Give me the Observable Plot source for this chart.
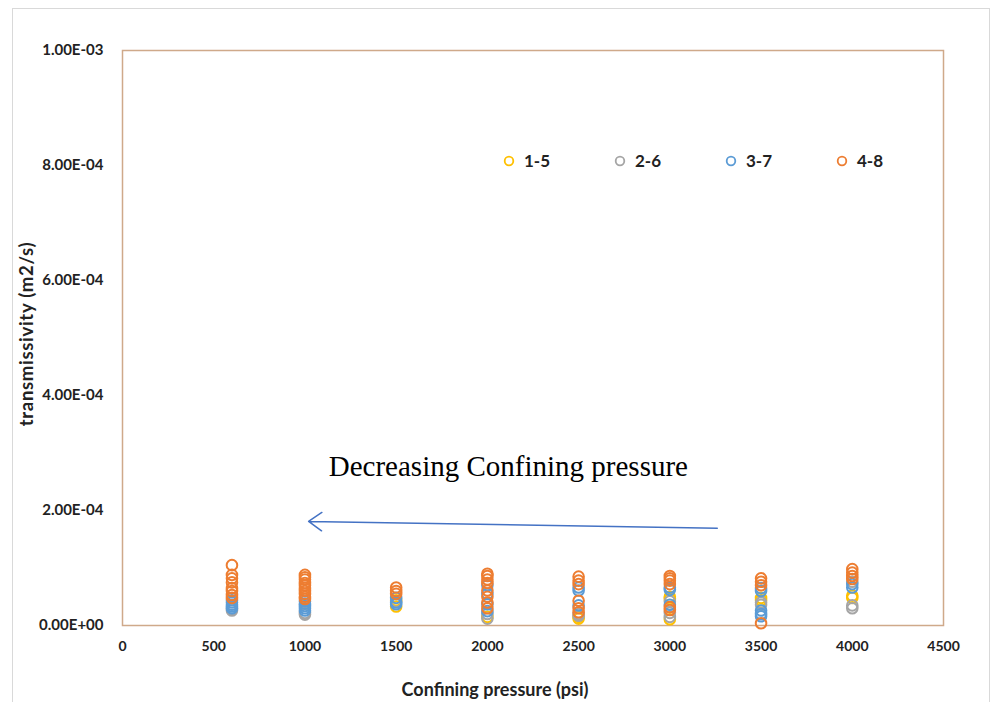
<!DOCTYPE html>
<html>
<head>
<meta charset="utf-8">
<script src="https://cdn.jsdelivr.net/npm/d3@7"></script>
<script src="https://cdn.jsdelivr.net/npm/@observablehq/plot@0.6"></script>
<style>
  html, body { margin: 0; padding: 0; background: #fff; }
  #wrap { position: relative; width: 1000px; height: 702px; overflow: hidden; font-family: Lato, "Open Sans", sans-serif; }
  #border { position: absolute; left: 12px; top: 8px; width: 978px; height: 720px; border: 1px solid #d9d9d9; box-sizing: border-box; }
  #chart { position: absolute; left: 0; top: 0; }
  .ttl { position: absolute; font-weight: bold; color: #222; white-space: nowrap; }
  #xtitle { left: 495px; top: 678px; transform: translateX(-50%); font-size: 18px; }
  #ytitle { left: 26px; top: 334px; transform: translate(-50%, -50%) rotate(-90deg); font-size: 18.5px; letter-spacing: 0.7px; }
  #legend { position: absolute; top: 150px; left: 503px; display: flex; gap: 0; font-weight: bold; font-size: 17px; color: #222; }
  #legend .item { display: flex; align-items: center; width: 111px; }
  #legend svg { margin-right: 9px; }
</style>
</head>
<body>
<div id="wrap">
  <div id="border"></div>
  <div id="chart"></div>
  <div id="legend"></div>
  <div class="ttl" id="xtitle">Confining pressure (psi)</div>
  <div class="ttl" id="ytitle">transmissivity (m2/s)</div>
</div>
<script>
// ---- data ----
const seriesNames = ["1-5", "2-6", "3-7", "4-8"];
const seriesColors = ["#FFC000", "#A5A5A5", "#5B9BD5", "#ED7D31"];
const xTicks = [0, 500, 1000, 1500, 2000, 2500, 3000, 3500, 4000, 4500];
const yTicks = [0, 2e-4, 4e-4, 6e-4, 8e-4, 1e-3];

// [confining pressure (psi), transmissivity (m2/s)]
const s1_5 = [
  [1500, 4.4e-5], [1500, 3.3e-5],
  [2000, 1.5e-5],
  [2500, 1.2e-5], [2500, 1.5e-5],
  [3000, 5.0e-5], [3000, 4.6e-5], [3000, 1.1e-5],
  [3500, 4.8e-5], [3500, 4.4e-5],
  [4000, 5.2e-5], [4000, 4.8e-5]
];
const s2_6 = [
  [600, 2.6e-5], [600, 2.9e-5],
  [1000, 2.2e-5], [1000, 1.9e-5],
  [1500, 4.2e-5],
  [2000, 2.0e-5], [2000, 1.2e-5],
  [2500, 1.7e-5], [2500, 2.0e-5],
  [3000, 4.2e-5], [3000, 2.2e-5], [3000, 1.5e-5],
  [3500, 4.0e-5], [3500, 3.6e-5],
  [4000, 7.6e-5], [4000, 3.5e-5], [4000, 3.0e-5]
];
const s3_7 = [
  [600, 4.4e-5], [600, 4.0e-5], [600, 3.6e-5], [600, 3.3e-5], [600, 3.0e-5],
  [1000, 4.2e-5], [1000, 3.8e-5], [1000, 3.4e-5], [1000, 3.0e-5], [1000, 2.6e-5],
  [1500, 4.8e-5], [1500, 4.0e-5], [1500, 3.7e-5],
  [2000, 7.0e-5], [2000, 5.5e-5], [2000, 3.7e-5], [2000, 2.5e-5],
  [2500, 6.6e-5], [2500, 6.1e-5], [2500, 3.5e-5],
  [3000, 6.6e-5], [3000, 6.2e-5], [3000, 3.6e-5],
  [3500, 6.5e-5], [3500, 6.0e-5], [3500, 2.6e-5], [3500, 2.0e-5], [3500, 1.6e-5],
  [4000, 7.2e-5], [4000, 6.6e-5]
];
const s4_8 = [
  [600, 1.05e-4], [600, 8.8e-5], [600, 8.2e-5], [600, 7.5e-5], [600, 6.5e-5], [600, 6.0e-5], [600, 5.3e-5], [600, 4.8e-5],
  [1000, 8.8e-5], [1000, 8.4e-5], [1000, 8.0e-5], [1000, 7.4e-5], [1000, 7.0e-5], [1000, 6.5e-5], [1000, 6.0e-5], [1000, 5.5e-5], [1000, 5.0e-5], [1000, 4.6e-5],
  [1500, 6.6e-5], [1500, 6.0e-5], [1500, 5.5e-5],
  [2000, 9.0e-5], [2000, 8.6e-5], [2000, 8.0e-5], [2000, 7.4e-5], [2000, 6.1e-5], [2000, 5.0e-5], [2000, 4.0e-5], [2000, 3.0e-5],
  [2500, 8.5e-5], [2500, 7.8e-5], [2500, 7.2e-5], [2500, 4.3e-5], [2500, 3.0e-5], [2500, 2.3e-5],
  [3000, 8.6e-5], [3000, 8.2e-5], [3000, 7.8e-5], [3000, 7.2e-5], [3000, 3.2e-5], [3000, 2.7e-5],
  [3500, 8.2e-5], [3500, 7.6e-5], [3500, 7.0e-5], [3500, 4e-6],
  [4000, 9.8e-5], [4000, 9.2e-5], [4000, 8.6e-5], [4000, 8.1e-5]
];
const seriesData = [s1_5, s2_6, s3_7, s4_8];

// annotation: text and arrow (data coordinates)
const noteText = [{x: 2115, y: 2.77e-4, label: "Decreasing Confining pressure"}];
const noteArrow = [{x1: 3260, y1: 1.69e-4, x2: 1020, y2: 1.81e-4}];

// ---- build ----
const rows = seriesData.flatMap((arr, i) => arr.map(([p, t]) => ({p, t, s: seriesNames[i]})));

const fmtE = v => {
  const [m, e] = (+v).toExponential(2).split("e");
  const n = +e;
  return m + "E" + (n < 0 ? "-" : "+") + String(Math.abs(n)).padStart(2, "0");
};

const chart = Plot.plot({
  width: 1000,
  height: 702,
  marginLeft: 122,
  marginRight: 57,
  marginTop: 50,
  marginBottom: 77,
  style: {fontFamily: "Lato, 'Open Sans', sans-serif", fontSize: "14px", fontWeight: "bold", color: "#222", background: "transparent"},
  x: {domain: [0, 4500], ticks: xTicks, tickSize: 0, tickPadding: 16, label: null, tickFormat: d => String(d)},
  y: {domain: [0, 1e-3], ticks: yTicks, tickSize: 0, tickPadding: 19, label: null, tickFormat: fmtE},
  color: {domain: seriesNames, range: seriesColors},
  marks: [
    Plot.frame({stroke: "#cfa98a", strokeWidth: 1.5}),
    Plot.axisY({ticks: yTicks, tickSize: 0, tickPadding: 19, tickFormat: fmtE, fontSize: 15, label: null}),
    Plot.dot(rows, {x: "p", y: "t", stroke: "s", r: 5.3, strokeWidth: 2, fill: "none"}),
    Plot.text(noteText, {x: "x", y: "y", text: "label", fontFamily: "'Liberation Serif', 'DejaVu Serif', serif", fontSize: 29, fontWeight: "normal", fill: "#000"}),
    Plot.arrow(noteArrow, {x1: "x1", y1: "y1", x2: "x2", y2: "y2", stroke: "#4472C4", strokeWidth: 1.5, headLength: 16, headAngle: 70, bend: 0})
  ]
});
document.getElementById("chart").appendChild(chart);

// legend
const leg = document.getElementById("legend");
seriesNames.forEach((name, i) => {
  const item = document.createElement("div");
  item.className = "item";
  item.innerHTML = `<svg width="12" height="12"><circle cx="6" cy="6" r="4.3" fill="none" stroke="${seriesColors[i]}" stroke-width="1.8"/></svg><span>${name}</span>`;
  leg.appendChild(item);
});
</script>
</body>
</html>
